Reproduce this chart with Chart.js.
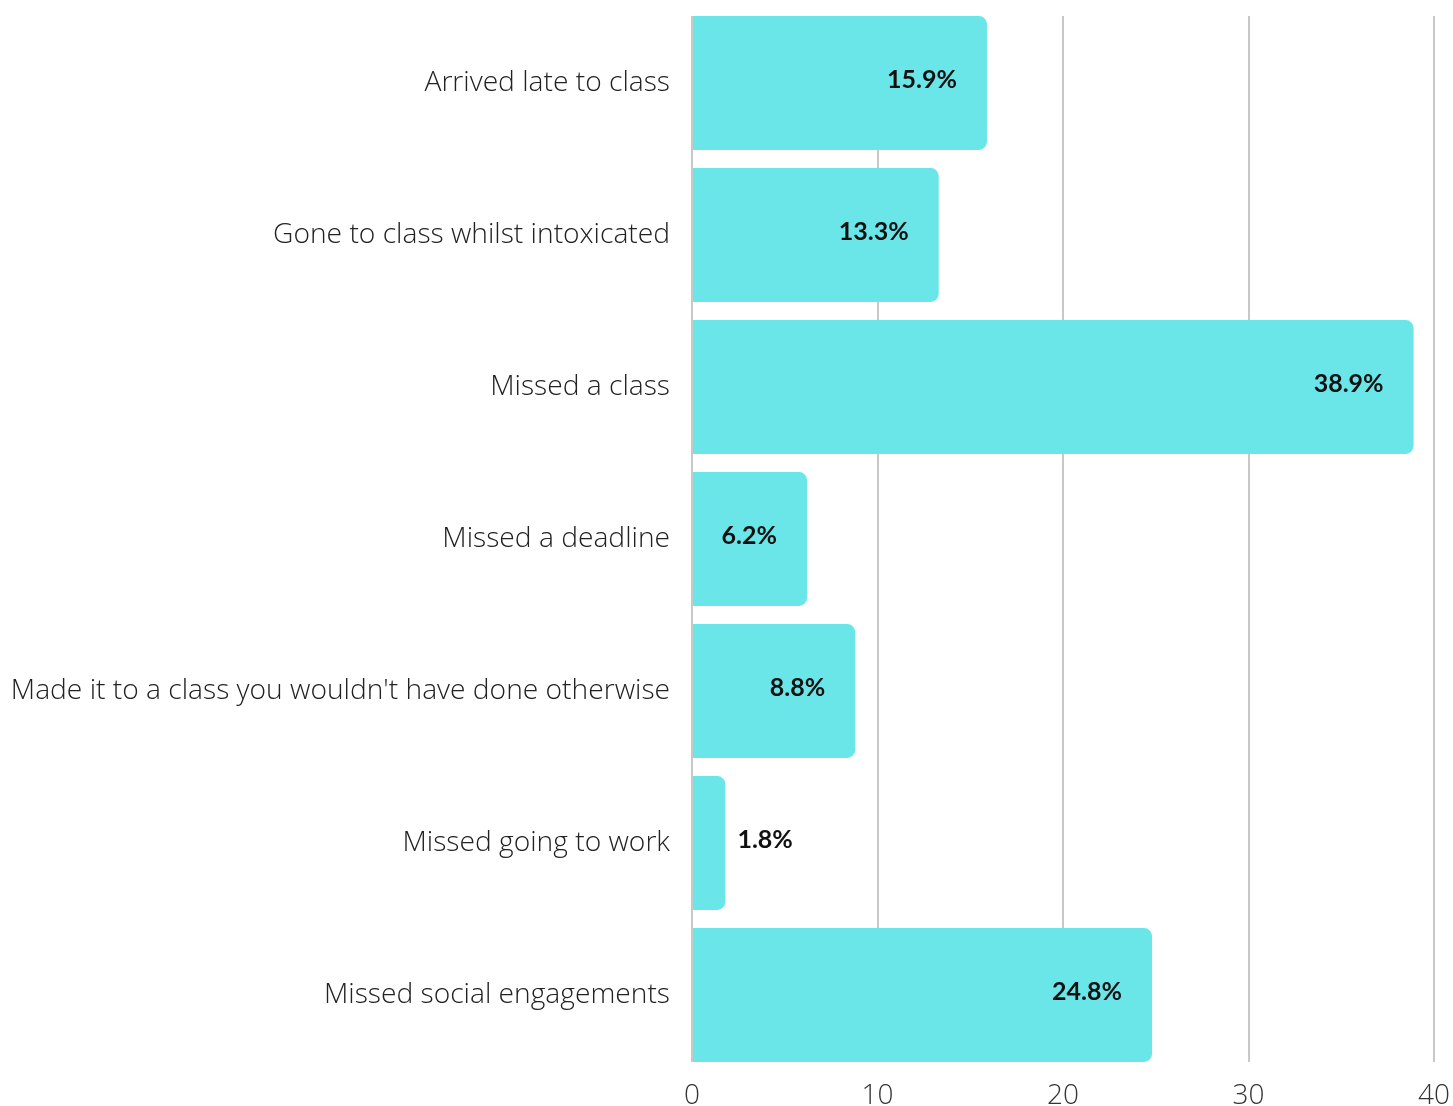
<!DOCTYPE html>
<html>
<head>
<meta charset="utf-8">
<script src="https://cdn.jsdelivr.net/npm/chart.js@4"></script>
<style>
html,body{margin:0;padding:0;background:#fff;}
#wrap{width:1453px;height:1106px;position:relative;}
</style>
</head>
<body>
<div id="wrap"><canvas id="c" width="1453" height="1106"></canvas></div>
<script>
const categories = [
  "Arrived late to class",
  "Gone to class whilst intoxicated",
  "Missed a class",
  "Missed a deadline",
  "Made it to a class you wouldn't have done otherwise",
  "Missed going to work",
  "Missed social engagements"
];
const values = [15.9, 13.3, 38.9, 6.2, 8.8, 1.8, 24.8];
const xTicks = [0, 10, 20, 30, 40];

const gridPlugin = {
  id: 'customGrid',
  beforeDatasetsDraw(chart) {
    const ctx = chart.ctx;
    const xs = chart.scales.x;
    const bars = chart.getDatasetMeta(0).data;
    const top = bars[0].y - bars[0].height / 2;
    const bottom = bars[bars.length - 1].y + bars[bars.length - 1].height / 2;
    ctx.save();
    ctx.strokeStyle = '#c8c8c8';
    ctx.lineWidth = 2;
    xTicks.forEach(t => {
      if (t === 0) return;
      const px = Math.round(xs.getPixelForValue(t));
      ctx.beginPath();
      ctx.moveTo(px, top);
      ctx.lineTo(px, bottom);
      ctx.stroke();
    });
    ctx.restore();
  },
  afterDatasetsDraw(chart) {
    const ctx = chart.ctx;
    const xs = chart.scales.x;
    const bars = chart.getDatasetMeta(0).data;
    const top = bars[0].y - bars[0].height / 2;
    const bottom = bars[bars.length - 1].y + bars[bars.length - 1].height / 2;
    ctx.save();
    ctx.strokeStyle = '#c8c8c8';
    ctx.lineWidth = 2;
    const px = Math.round(xs.getPixelForValue(0));
    ctx.beginPath();
    ctx.moveTo(px, top);
    ctx.lineTo(px, bottom);
    ctx.stroke();
    // value labels
    ctx.fillStyle = '#111';
    ctx.font = 'bold 25px Lato';
    ctx.textBaseline = 'middle';
    bars.forEach((b, i) => {
      const v = values[i];
      const txt = v.toFixed(1) + '%';
      if (v >= 5) {
        ctx.textAlign = 'right';
        ctx.fillText(txt, b.x - 30, b.y - 3);
      } else {
        ctx.textAlign = 'left';
        ctx.fillText(txt, b.x + 12, b.y - 3);
      }
    });
    ctx.restore();
  }
};

new Chart(document.getElementById('c'), {
  type: 'bar',
  data: {
    labels: categories,
    datasets: [{
      data: values,
      backgroundColor: '#6ae5e8',
      borderRadius: 8,
      borderSkipped: 'start',
      categoryPercentage: 1,
      barPercentage: 0.88
    }]
  },
  options: {
    indexAxis: 'y',
    responsive: false,
    animation: false,
    layout: { padding: { top: 7, right: 19, left: 0, bottom: 0 } },
    plugins: { legend: { display: false }, tooltip: { enabled: false } },
    scales: {
      x: {
        min: 0, max: 40,
        afterBuildTicks(scale) { scale.ticks = xTicks.map(v => ({ value: v })); },
        afterFit(scale) { scale.height = 35; scale.paddingLeft = 0; scale.paddingRight = 0; },
        grid: { display: false, drawTicks: false },
        border: { display: false },
        ticks: {
          color: '#333',
          font: { family: 'Open Sans', size: 28, weight: 300 },
          padding: 8,
          maxRotation: 0
        }
      },
      y: {
        grid: { display: false, drawTicks: false },
        border: { display: false },
        afterFit(scale) { scale.width = 692; scale.paddingTop = 0; scale.paddingBottom = 0; },
        ticks: {
          color: '#222',
          font: { family: 'Open Sans', size: 28.2, weight: 300 },
          padding: 22
        }
      }
    }
  },
  plugins: [gridPlugin]
});
</script>
</body>
</html>
